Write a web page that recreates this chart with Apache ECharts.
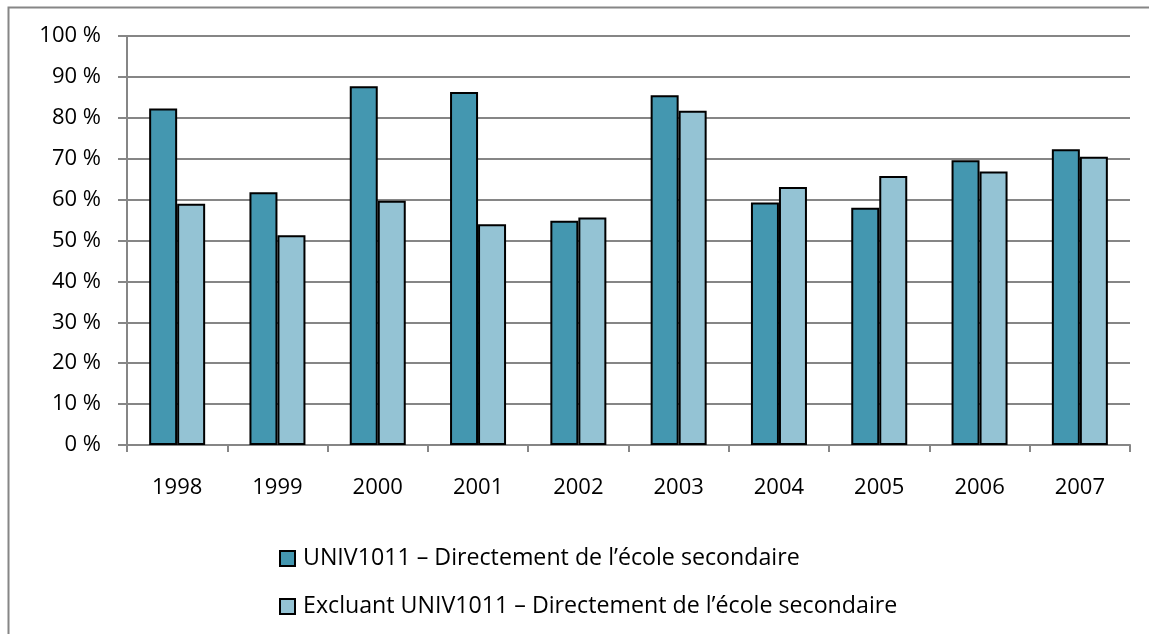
<!DOCTYPE html>
<html>
<head>
<meta charset="utf-8">
<script src="https://cdn.jsdelivr.net/npm/echarts@6/dist/echarts.min.js"></script>
<style>
  html, body { margin: 0; padding: 0; background: #fff; }
  #chart { width: 1149px; height: 634px; }
</style>
</head>
<body>
<div id="chart"></div>
<script>
const years = ['1998', '1999', '2000', '2001', '2002', '2003', '2004', '2005', '2006', '2007'];
const univValues = [82.3, 61.8, 87.7, 86.3, 54.8, 85.5, 59.3, 58.0, 69.6, 72.3];
const exclValues = [59.0, 51.3, 59.7, 54.0, 55.6, 81.7, 63.1, 65.8, 66.9, 70.5];
const seriesNames = [
  'UNIV1011 – Directement de l’école secondaire',
  'Excluant UNIV1011 – Directement de l’école secondaire'
];

const font = 'Open Sans';
const gray = '#868686';

const chart = echarts.init(document.getElementById('chart'));

chart.setOption({
  animation: false,
  textStyle: { fontFamily: font },
  graphic: [
    {
      // outer frame of the chart area (cut off at right and bottom)
      type: 'rect',
      left: 6, top: 5,
      shape: { width: 1300, height: 800 },
      style: { fill: 'none', stroke: gray, lineWidth: 2 }
    }
  ],
  grid: { left: 127, right: 19, top: 36, bottom: 189, containLabel: false },
  legend: {
    orient: 'vertical',
    left: 274,
    top: 542,
    icon: 'rect',
    itemWidth: 15,
    itemHeight: 15,
    itemGap: 25,
    textStyle: { fontFamily: font, fontSize: 23.2, color: '#000', padding: [0, 0, 0, 3] },
    data: seriesNames
  },
  xAxis: {
    type: 'category',
    data: years,
    axisLine: { lineStyle: { color: gray, width: 2 } },
    axisTick: { show: true, length: 7, interval: 0, lineStyle: { color: gray, width: 2 } },
    axisLabel: { margin: 32, fontSize: 22, color: '#000', fontFamily: font }
  },
  yAxis: {
    type: 'value',
    min: 0, max: 100, interval: 10,
    axisLine: { show: true, lineStyle: { color: gray, width: 2 } },
    axisTick: { show: true, length: 9, lineStyle: { color: gray, width: 2 } },
    axisLabel: {
      margin: 26, fontSize: 22, color: '#000', fontFamily: font,
      formatter: v => v + ' %'
    },
    splitLine: { lineStyle: { color: gray, width: 2 } }
  },
  series: [
    {
      name: seriesNames[0],
      type: 'bar',
      data: univValues,
      barWidth: 28,
      barGap: '0%',
      itemStyle: { color: '#4497b0', borderColor: '#000', borderWidth: 2 }
    },
    {
      name: seriesNames[1],
      type: 'bar',
      data: exclValues,
      barWidth: 28,
      itemStyle: { color: '#94c3d4', borderColor: '#000', borderWidth: 2 }
    }
  ]
});
</script>
</body>
</html>
